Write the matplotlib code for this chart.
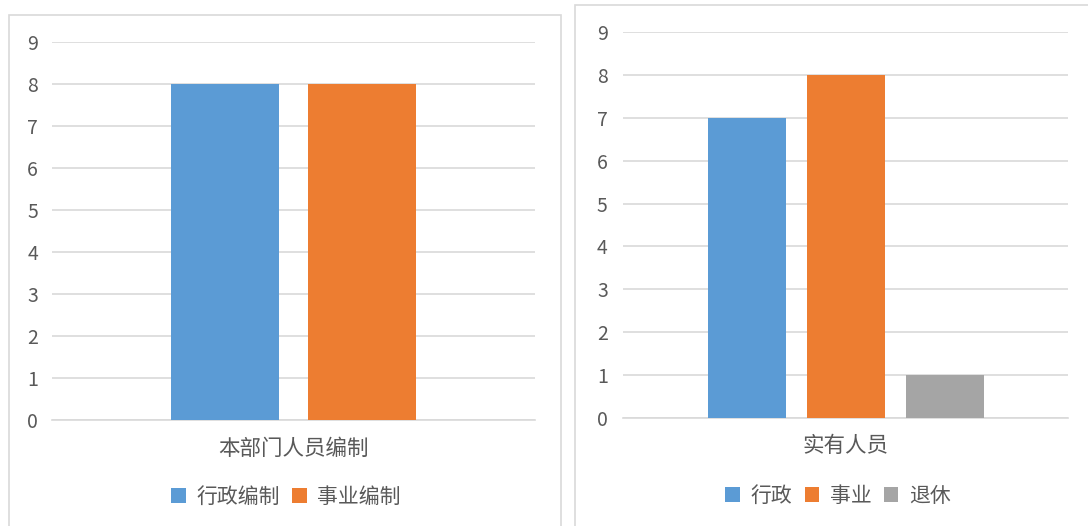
import matplotlib
matplotlib.use("Agg")
import matplotlib.pyplot as plt
from matplotlib.patches import Rectangle, Patch

plt.rcParams['font.family'] = ['Noto Sans CJK SC', 'DejaVu Sans']
plt.rcParams['font.weight'] = 'light'

# left chart
left_cat = "本部门人员编制"
left_series = ["行政编制", "事业编制"]
left_values = [8, 8]

# right chart
right_cat = "实有人员"
right_series = ["行政", "事业", "退休"]
right_values = [7, 8, 1]

yticks = list(range(0, 10))
colors = ["#5B9BD5", "#ED7D31", "#A5A5A5"]
text_col = "#595959"
grid_col = "#D9D9D9"

W, H = 1088, 526
fig = plt.figure(figsize=(W / 100, H / 100), dpi=100)


def px_axes(x0, x1, ytop, ybot):
    return fig.add_axes([x0 / W, 1 - ybot / H, (x1 - x0) / W, (ybot - ytop) / H])


def draw_chart(ax, cat, names, vals, bw, gap, ypad, xpad, leg_xy):
    n = len(vals)
    step = bw + gap
    handles = []
    for i, (nm, v) in enumerate(zip(names, vals)):
        off = (i - (n - 1) / 2) * step
        ax.bar(off, v, width=bw, color=colors[i], zorder=3)
        handles.append(Patch(facecolor=colors[i], label=nm))
    ax.set_xlim(-0.5, 0.5)
    ax.set_ylim(0, 9)
    ax.set_yticks(yticks)
    ax.set_xticks([0])
    ax.set_xticklabels([cat], fontsize=15.5, color=text_col)
    ax.tick_params(axis='x', length=0, pad=xpad)
    ax.tick_params(axis='y', length=0, pad=ypad, labelsize=14, labelcolor=text_col)
    ax.grid(axis='y', color=grid_col, linewidth=1.2, zorder=0)
    for s in ['top', 'right', 'left']:
        ax.spines[s].set_visible(False)
    ax.spines['bottom'].set_color(grid_col)
    ax.spines['bottom'].set_linewidth(1.2)
    fig.legend(handles=handles, loc='center', bbox_to_anchor=(leg_xy[0] / W, 1 - leg_xy[1] / H),
               ncol=n, frameon=False, fontsize=15, labelcolor=text_col,
               handlelength=0.7, handleheight=0.7, handletextpad=0.5, columnspacing=0.6)


ax1 = px_axes(52, 535, 42, 420)
draw_chart(ax1, left_cat, left_series, left_values, 108 / 483, 29 / 483, 10, 13, (286, 497))

ax2 = px_axes(623, 1068, 32, 418)
draw_chart(ax2, right_cat, right_series, right_values, 78 / 445, 21 / 445, 11, 12, (838, 496))

# chart frames
fig.patches.append(Rectangle((9 / W, -0.05), (561 - 9) / W, 1.05 - 15 / H,
                             transform=fig.transFigure, fill=False,
                             edgecolor="#D9D9D9", linewidth=1.2))
fig.patches.append(Rectangle((575 / W, -0.05), 0.6, 1.05 - 5 / H,
                             transform=fig.transFigure, fill=False,
                             edgecolor="#D9D9D9", linewidth=1.2))

fig.savefig("out.png", dpi=100)
